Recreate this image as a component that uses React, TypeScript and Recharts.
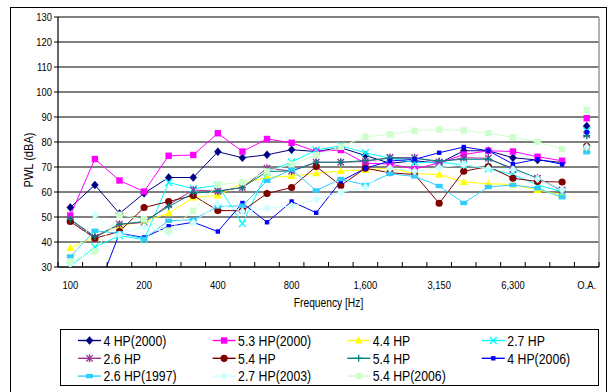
import React from 'react';
import { LineChart, Line, XAxis, YAxis, CartesianGrid, Legend, ReferenceLine } from 'recharts';

// 1/3-octave bands (Hz) plus overall
const bands = ['100', '125', '160', '200', '250', '315', '400', '500', '630', '800', '1000', '1250', '1600', '2000', '2500', '3150', '4000', '5000', '6300', '8000', '10000', 'O.A.'];
const tickLabelText = ['100', '200', '400', '800', '1,600', '3,150', '6,300', 'O.A.'];
const tickLabelBand = [0, 3, 6, 9, 12, 15, 18, 21];
const yTicks = [30, 40, 50, 60, 70, 80, 90, 100, 110, 120, 130];

// values per band (last value = O.A.)
const hp4_2000 = [53.8, 62.8, 51.4, 59.5, 65.8, 65.8, 76.1, 73.7, 74.9, 76.9, 76.2, 77.7, 74.6, 71.5, 72.5, 71.5, 76.5, 76.5, 73.7, 72.8, 71.8, 86.4];
const hp53_2000 = [50.6, 73.2, 64.6, 60.2, 74.5, 74.8, 83.5, 76.2, 81.2, 79.7, 76.2, 76.8, 71.5, 71.2, 69.2, 71.6, 75.0, 76.5, 76.2, 74.1, 72.5, 89.5];
const hp44 = [37.6, 42.0, 46.5, 48.2, 51.5, 57.8, 58.6, 63.5, 65.8, 66.4, 67.5, 68.4, 68.8, 69.6, 67.3, 67.0, 64.0, 63.3, 63.0, 60.8, 58.9, 77.0];
const hp27 = [30.4, 38.0, 42.5, 41.0, 63.8, 61.3, 62.7, 47.4, 68.0, 72.0, 76.8, 78.5, 75.7, 73.5, 71.8, 71.9, 70.9, 69.3, 67.0, 62.8, 60.1, 84.5];
const hp26 = [49.0, 41.8, 47.1, 47.8, 54.9, 60.8, 60.3, 61.8, 69.5, 68.4, 71.9, 71.9, 72.2, 73.8, 73.7, 71.9, 73.7, 73.5, 69.0, 65.5, 60.8, 83.0];
const hp54a = [48.2, 41.5, 44.2, 53.8, 56.2, 58.6, 52.6, 52.5, 59.4, 61.8, 70.2, 62.6, 69.5, 67.7, 67.0, 55.5, 68.3, 70.2, 65.5, 64.2, 64.0, 78.3];
const hp54b = [49.1, 42.2, 47.1, 48.2, 54.2, 59.5, 60.4, 61.8, 68.2, 68.4, 71.9, 71.9, 72.6, 73.5, 73.5, 72.4, 73.1, 73.1, 69.5, 65.5, 60.5, 82.5];
const hp4_2006 = [null, 18.0, 43.5, 41.8, 46.3, 47.9, 44.2, 55.6, 47.9, 56.2, 51.7, 64.3, 69.5, 72.4, 73.1, 75.7, 78.0, 76.5, 71.2, 73.1, 71.1, 83.9];
const hp26_1997 = [34.2, 44.5, 43.5, 41.3, 48.5, 48.9, 54.2, 54.5, 64.5, 69.0, 60.6, 65.2, 62.8, 67.3, 66.2, 62.4, 55.6, 62.0, 62.8, 61.5, 57.9, 75.9];
const hp27_2003 = [31.5, 50.9, 42.9, 46.2, 43.7, 47.7, 55.2, 52.2, 53.5, 54.4, 57.1, 59.8, 62.0, 69.5, 68.3, 69.8, 70.9, 69.5, 69.0, 65.2, 60.9, 78.0];
const hp54_2006 = [32.2, 36.2, 50.9, 49.1, 44.6, 52.5, 62.9, 63.9, 68.2, 71.1, 74.8, 78.1, 82.1, 83.1, 84.5, 85.0, 84.6, 83.5, 81.9, 80.1, 77.2, 92.8];

type Shape = 'diamond' | 'square' | 'triangle' | 'x' | 'asterisk' | 'circle' | 'plus' | 'smallSquare' | 'rect';

const series: { key: string; name: string; color: string; shape: Shape; values: (number | null)[] }[] = [
  { key: 's1', name: '4 HP(2000)', color: '#000080', shape: 'diamond', values: hp4_2000 },
  { key: 's2', name: '5.3 HP(2000)', color: '#FF00FF', shape: 'square', values: hp53_2000 },
  { key: 's3', name: '4.4 HP', color: '#FFFF00', shape: 'triangle', values: hp44 },
  { key: 's4', name: '2.7 HP', color: '#00FFFF', shape: 'x', values: hp27 },
  { key: 's5', name: '2.6 HP', color: '#993399', shape: 'asterisk', values: hp26 },
  { key: 's6', name: '5.4 HP', color: '#800000', shape: 'circle', values: hp54a },
  { key: 's7', name: '5.4 HP', color: '#008080', shape: 'plus', values: hp54b },
  { key: 's8', name: '4 HP(2006)', color: '#0000FF', shape: 'smallSquare', values: hp4_2006 },
  { key: 's9', name: '2.6 HP(1997)', color: '#33CCFF', shape: 'rect', values: hp26_1997 },
  { key: 's10', name: '2.7 HP(2003)', color: '#CCFFFF', shape: 'diamond', values: hp27_2003 },
  { key: 's11', name: '5.4 HP(2006)', color: '#CCFFCC', shape: 'square', values: hp54_2006 },
];

// build table: band positions at i+0.5, gap row before O.A. so it stays unconnected
const data: Record<string, number | null>[] = [];
bands.forEach((_, i) => {
  if (i === bands.length - 1) {
    const gap: Record<string, number | null> = { x: i };
    series.forEach((s) => (gap[s.key] = null));
    data.push(gap);
  }
  const row: Record<string, number | null> = { x: i + 0.5 };
  series.forEach((s) => (row[s.key] = s.values[i]));
  data.push(row);
});

const markTicks = bands.map((_, i) => i).concat([bands.length]);
const labelTicks = tickLabelBand.map((b) => b + 0.5);
const xTicks = [...markTicks, ...labelTicks];

const FONT = "'Liberation Sans', Arial, sans-serif";
const NARROW = 0.82;

function NText({ x, y, size, anchor = 'start', rotate = 0, children }: any) {
  return (
    <text
      transform={`translate(${x},${y}) rotate(${rotate}) scale(${NARROW},1)`}
      x={0}
      y={0}
      textAnchor={anchor}
      fontSize={size}
      fontFamily={FONT}
      fill="#000"
    >
      {children}
    </text>
  );
}

function Marker({ shape, cx, cy, color }: { shape: Shape; cx: number; cy: number; color: string }) {
  switch (shape) {
    case 'diamond':
      return <polygon points={`${cx},${cy - 4} ${cx + 3.5},${cy} ${cx},${cy + 4} ${cx - 3.5},${cy}`} fill={color} stroke={color} strokeWidth={0.5} />;
    case 'square':
      return <rect x={cx - 3.2} y={cy - 3.2} width={6.4} height={6.4} fill={color} />;
    case 'triangle':
      return <polygon points={`${cx},${cy - 4} ${cx + 4},${cy + 3} ${cx - 4},${cy + 3}`} fill={color} />;
    case 'x':
      return (
        <g stroke={color} strokeWidth={1.3}>
          <line x1={cx - 3.5} y1={cy - 3.5} x2={cx + 3.5} y2={cy + 3.5} />
          <line x1={cx - 3.5} y1={cy + 3.5} x2={cx + 3.5} y2={cy - 3.5} />
        </g>
      );
    case 'asterisk':
      return (
        <g stroke={color} strokeWidth={1.3}>
          <line x1={cx - 3.2} y1={cy - 3.2} x2={cx + 3.2} y2={cy + 3.2} />
          <line x1={cx - 3.2} y1={cy + 3.2} x2={cx + 3.2} y2={cy - 3.2} />
          <line x1={cx} y1={cy - 4} x2={cx} y2={cy + 4} />
        </g>
      );
    case 'circle':
      return <circle cx={cx} cy={cy} r={3.6} fill={color} />;
    case 'plus':
      return (
        <g stroke={color} strokeWidth={1.3}>
          <line x1={cx - 3.5} y1={cy} x2={cx + 3.5} y2={cy} />
          <line x1={cx} y1={cy - 3.5} x2={cx} y2={cy + 3.5} />
        </g>
      );
    case 'smallSquare':
      return <rect x={cx - 2.2} y={cy - 2.2} width={4.4} height={4.4} fill={color} />;
    case 'rect':
      return <rect x={cx - 3.5} y={cy - 2.2} width={7} height={4.4} fill={color} />;
    default:
      return null;
  }
}

const makeDot = (shape: Shape, color: string) => (props: any) => {
  const { cx, cy, index, value } = props;
  if (cx == null || cy == null || value == null) return <g key={`d${index}`} />;
  return (
    <g key={`d${index}`}>
      <Marker shape={shape} cx={cx} cy={cy} color={color} />
    </g>
  );
};

const XTick = (props: any) => {
  const { x, y, payload } = props;
  const v = payload.value as number;
  if (Number.isInteger(v)) {
    return <line x1={x} x2={x} y1={y} y2={y - 5} stroke="#000" strokeWidth={1} />;
  }
  const idx = labelTicks.indexOf(v);
  return (
    <NText x={x} y={y + 22} size={11.5} anchor="middle">
      {tickLabelText[idx]}
    </NText>
  );
};

const YTick = (props: any) => {
  const { x, y, payload } = props;
  return (
    <NText x={x} y={y + 4} size={11.5} anchor="end">
      {payload.value}
    </NText>
  );
};

const renderLegend = () => (
  <div style={{ width: 539, height: 57, border: '1px solid #000', boxSizing: 'border-box', background: '#fff' }}>
    <svg width={537} height={55} style={{ display: 'block' }}>
      {series.map((s, i) => {
        const col = i % 4;
        const row = Math.floor(i / 4);
        const x0 = 17 + col * 134.6;
        const y = 10.5 + row * 17.8;
        return (
          <g key={s.key}>
            <line x1={x0} x2={x0 + 23} y1={y} y2={y} stroke={s.color} strokeWidth={1.4} />
            <Marker shape={s.shape} cx={x0 + 11.5} cy={y} color={s.color} />
            <NText x={x0 + 25.5} y={y + 5.3} size={15}>
              {s.name}
            </NText>
          </g>
        );
      })}
    </svg>
  </div>
);

const YLabel = (props: any) => {
  const vb = props.viewBox || {};
  const cx = vb.x + 19.5;
  const cy = vb.y + vb.height / 2 + 18;
  return (
    <NText x={cx} y={cy} size={13.5} anchor="middle" rotate={-90}>
      PWL (dBA)
    </NText>
  );
};

const XLabel = (props: any) => {
  const vb = props.viewBox || {};
  return (
    <NText x={vb.x + vb.width / 2} y={vb.y + 40} size={12.5} anchor="middle">
      Frequency [Hz]
    </NText>
  );
};

export default function App() {
  return (
    <div style={{ position: 'absolute', left: 0, top: 0, width: 612, height: 392, background: '#fff', overflow: 'hidden' }}>
      <div style={{ position: 'absolute', left: 10, top: 7, width: 597, height: 420, border: '1.5px solid #000', boxSizing: 'border-box' }} />
      <div style={{ position: 'absolute', left: 0, top: 0 }}>
        <LineChart width={612} height={392} data={data} margin={{ top: 17, right: 13, bottom: 28, left: 13 }}>
          <CartesianGrid vertical={false} stroke="#000" strokeWidth={1} />
          <XAxis
            type="number"
            dataKey="x"
            domain={[0, bands.length]}
            ticks={xTicks}
            interval={0}
            tick={<XTick />}
            tickLine={false}
            tickSize={0}
            tickMargin={0}
            axisLine={{ stroke: '#000', strokeWidth: 1.2 }}
            height={40}
            label={<XLabel />}
          />
          <YAxis
            type="number"
            domain={[30, 130]}
            ticks={yTicks}
            interval={0}
            allowDataOverflow
            width={45}
            tickSize={4}
            tickMargin={2}
            tickLine={{ stroke: '#000' }}
            axisLine={{ stroke: '#000', strokeWidth: 1.2 }}
            tick={<YTick />}
            label={<YLabel />}
          />
          <ReferenceLine x={bands.length} stroke="#999" strokeWidth={1.5} />
          <Legend content={renderLegend} wrapperStyle={{ top: 329, left: 60, bottom: 'auto', width: 539, height: 57 }} />
          {series.map((s) => (
            <Line
              key={s.key}
              dataKey={s.key}
              name={s.name}
              type="linear"
              stroke={s.color}
              strokeWidth={1}
              dot={makeDot(s.shape, s.color)}
              activeDot={false}
              connectNulls={false}
              isAnimationActive={false}
            />
          ))}
        </LineChart>
      </div>
    </div>
  );
}
